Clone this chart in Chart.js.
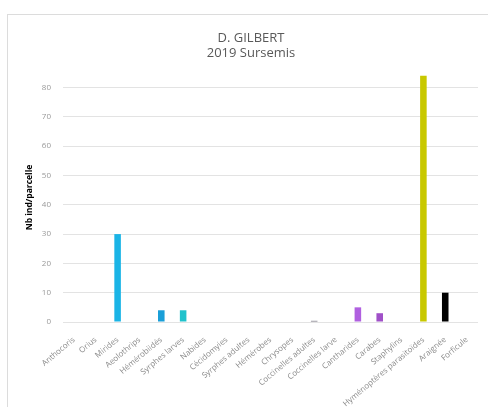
<!DOCTYPE html>
<html><head><meta charset="utf-8">
<script src="https://cdn.jsdelivr.net/npm/chart.js@4"></script>
<style>
html,body{margin:0;padding:0;background:#fff;}
#wrap{position:absolute;left:7px;top:14px;width:481px;height:393px;border-left:1px solid #dcdcdc;border-top:1px solid #dcdcdc;box-sizing:border-box;}
canvas{display:block;}
</style></head><body>
<div id="wrap"><canvas id="c" width="480" height="392"></canvas></div>
<script>
const categories = ["Anthocoris","Orius","Mirides","Aeolothrips","Hémérobiidés","Syrphes larves","Nabides","Cécidomyies","Syrphes adultes","Hémérobes","Chrysopes","Coccinelles adultes","Coccinelles larve","Cantharides","Carabes","Staphylins","Hyménoptères parasitoïdes","Araignée","Forficule"];
const values = [0,0,30,0,4,4,0,0,0,0,0,0.4,0,5,3,0,84,10,0];
const barColors = ["#1ab4e6","#1ab4e6","#1ab4e6","#1ab4e6","#1a9fd8","#20c2cc","#1ab4e6","#1ab4e6","#1ab4e6","#1ab4e6","#1ab4e6","#6e6a78","#a060d8","#b060e0","#a050c8","#a050c8","#c8c800","#000000","#000000"];
const yTicks = [0,10,20,30,40,50,60,70,80];
const titleLines = ["D. GILBERT","2019 Sursemis"];
const yTitle = "Nb ind/parcelle";

new Chart(document.getElementById('c'), {
  type: 'bar',
  data: { labels: categories, datasets: [{ data: values, backgroundColor: barColors, barPercentage: 0.3, categoryPercentage: 1 }] },
  options: {
    responsive: false, animation: false,
    layout: { padding: { left: 16, right: 10, top: 0, bottom: 0 } },
    plugins: {
      legend: { display: false }, tooltip: { enabled: false },
      title: { display: true, text: titleLines, color: '#595959', font: { family: 'Open Sans', size: 13, weight: 'normal', lineHeight: 1.15 }, padding: { top: 16, bottom: 12 } }
    },
    scales: {
      x: {
        grid: { display: false }, border: { display: false },
        ticks: { color: '#8a8a8a', font: { family: 'Open Sans', size: 8 }, maxRotation: 40, minRotation: 40, autoSkip: false, padding: 5 },
        afterFit: s => { s.height = 85; }
      },
      y: {
        min: 0, max: 85,
        afterBuildTicks: s => { s.ticks = yTicks.map(v => ({ value: v })); },
        grid: { color: '#e3e3e3', drawTicks: false }, border: { display: false },
        ticks: { color: '#999999', font: { family: 'Open Sans', size: 8 }, padding: 12 },
        title: { display: true, text: yTitle, color: '#000', font: { family: 'Open Sans', size: 8.5, weight: 'bold' }, padding: { top: 0, bottom: 0 } },
        afterFit: s => { s.width = 39; }
      }
    }
  }
});
</script>
</body></html>
